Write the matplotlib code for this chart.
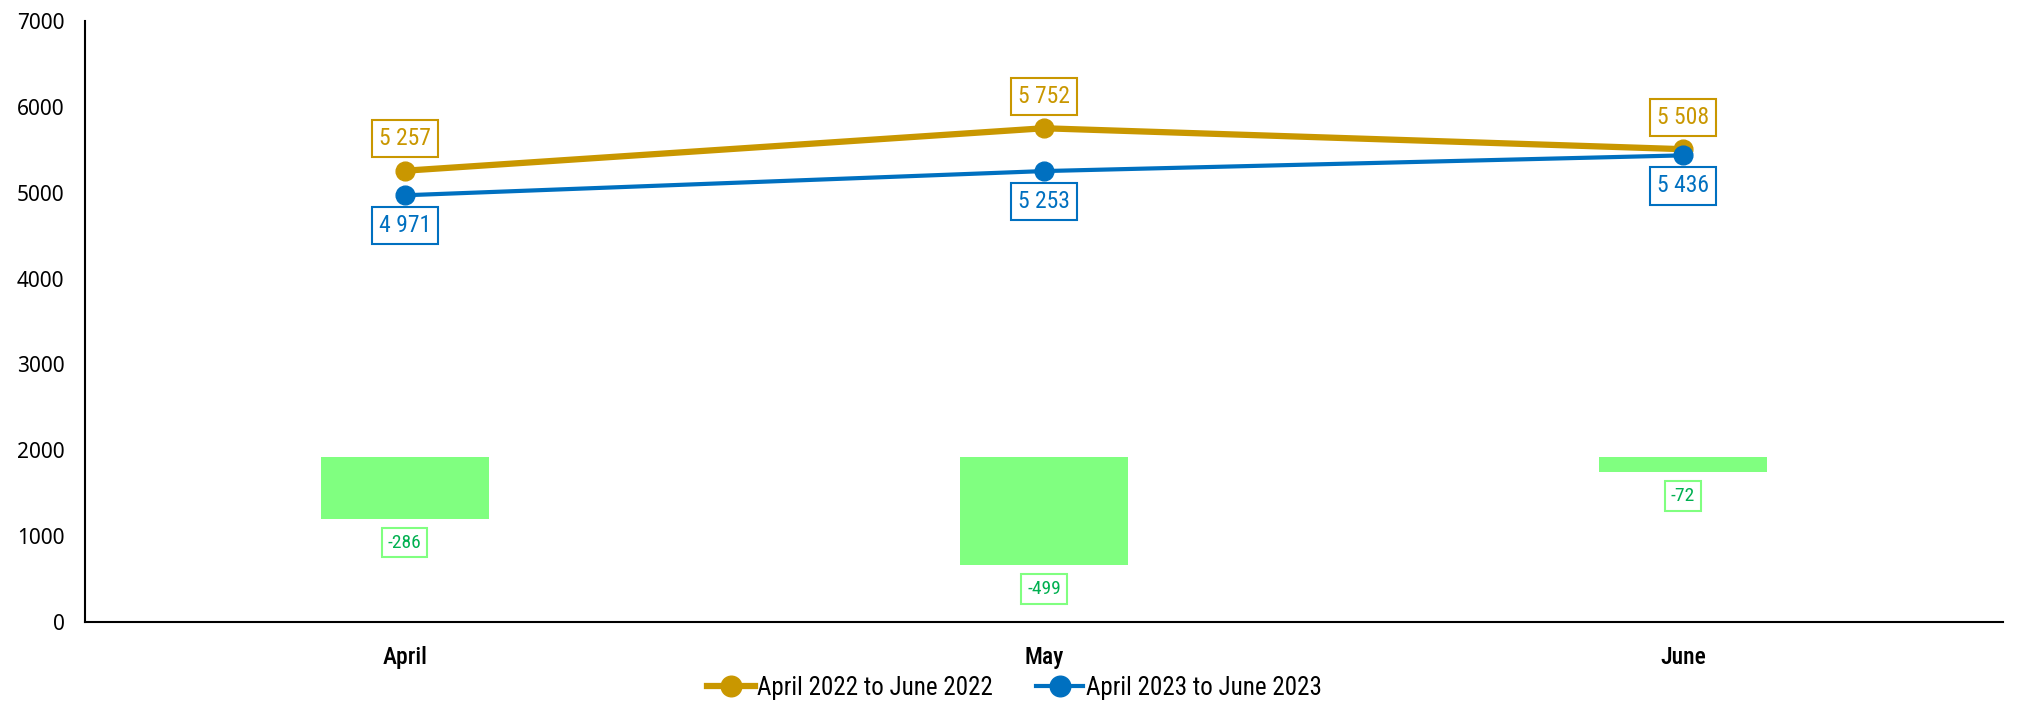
import matplotlib.pyplot as plt
import numpy as np

months = ['April', 'May', 'June']
sales_2022 = [5257, 5752, 5508]
sales_2023 = [4971, 5253, 5436]
diff = [-286, -499, -72]

gold = '#C99700'
blue = '#0070C0'
green_bar = '#80FF80'
green_txt = '#00B050'

narrow = ['Roboto Condensed', 'DejaVu Sans']
tickfont = ['Noto Sans', 'DejaVu Sans']


def fmt(v):
    return f'{v:,}'.replace(',', ' ')


fig = plt.figure(figsize=(20.29, 7.04), dpi=100)
ax = fig.add_axes([0.042, 0.1165, 0.945, 0.8535])
x = np.arange(len(months))

# Разница - столбцы на скрытой второй оси
ax2 = ax.twinx()
ax2.bar(x, diff, width=0.263, color=green_bar, zorder=1)
ax2.set_ylim(-760, 2005)
ax2.axis('off')
for xi, d in zip(x, diff):
    ax2.annotate(str(d), (xi, d), xytext=(0, -17), textcoords='offset points',
                 ha='center', va='center', fontsize=14, color=green_txt,
                 family=narrow,
                 bbox=dict(boxstyle='square,pad=0.3', fc='white',
                           ec=green_bar, lw=1.5))

ax.set_zorder(ax2.get_zorder() + 1)
ax.patch.set_visible(False)

ax.plot(x, sales_2022, color=gold, lw=4.5, marker='o', markersize=13.5,
        label='April 2022 to June 2022')
ax.plot(x, sales_2023, color=blue, lw=3.0, marker='o', markersize=13.5,
        label='April 2023 to June 2023')

for xi, v in zip(x, sales_2022):
    ax.annotate(fmt(v), (xi, v), xytext=(0, 23), textcoords='offset points',
                ha='center', va='center', fontsize=17, color=gold,
                family=narrow,
                bbox=dict(boxstyle='square,pad=0.3', fc='white', ec=gold, lw=1.5))
for xi, v in zip(x, sales_2023):
    ax.annotate(fmt(v), (xi, v), xytext=(0, -22), textcoords='offset points',
                ha='center', va='center', fontsize=17, color=blue,
                family=narrow,
                bbox=dict(boxstyle='square,pad=0.3', fc='white', ec=blue, lw=1.5))

ax.set_xlim(-0.5, 2.5)
ax.set_ylim(0, 7000)
ax.set_yticks(range(0, 7001, 1000))
ax.set_yticklabels([str(t) for t in range(0, 7001, 1000)], family=tickfont,
                   fontsize=15)
ax.set_xticks(x)
ax.set_xticklabels(months, family=narrow, fontsize=17, fontweight='medium')
ax.tick_params(axis='y', length=0, pad=15)
ax.tick_params(axis='x', length=0, pad=17)
for s in ['top', 'right']:
    ax.spines[s].set_visible(False)
ax.spines['left'].set_linewidth(1.5)
ax.spines['bottom'].set_linewidth(1.5)

fig.legend(loc='center', bbox_to_anchor=(0.5, 1 - 688 / 704), ncol=2,
           frameon=False, prop={'family': narrow, 'size': 18},
           handlelength=1.9, handletextpad=0.1, columnspacing=1.7,
           borderpad=0, markerscale=1.1)

fig.savefig('out.png', dpi=100)
plt.close()
